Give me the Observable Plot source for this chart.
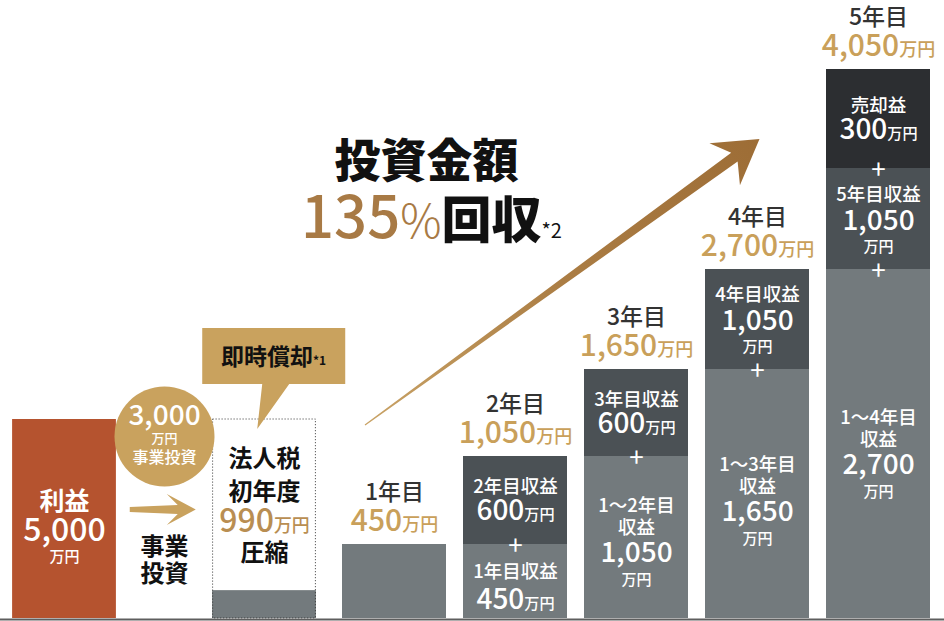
<!DOCTYPE html>
<html><head><meta charset="utf-8">
<script src="https://cdn.jsdelivr.net/npm/d3@7"></script>
<script src="https://cdn.jsdelivr.net/npm/@observablehq/plot@0.6"></script>
<style>
body{margin:0;background:#fff;}
#wrap{position:relative;width:944px;height:621px;overflow:hidden;background:#fff;}
#wrap svg{position:absolute;left:0;top:0;}
</style></head><body><div id="wrap"></div>
<script>
// ---------------- data ----------------
const years = ["1年目", "2年目", "3年目", "4年目", "5年目"];
const yearTotals = [450, 1050, 1650, 2700, 4050];
const segYears  = ["1年目", "2年目", "2年目", "3年目", "3年目", "4年目", "4年目", "5年目", "5年目", "5年目"];
const segKinds  = ["prev", "prev", "new", "prev", "new", "prev", "new", "prev", "new", "sale"];
const segValues = [450, 450, 600, 1050, 600, 1650, 1050, 2700, 1050, 300];
const segLabels = ["", "1年目収益", "2年目収益", "1～2年目\n収益", "3年目収益", "1～3年目\n収益", "4年目収益", "1～4年目\n収益", "5年目収益", "売却益"];
const unit = "万円";

const leftCols = ["利益", "事業投資", "法人税"];
const profitLabel = "利益";
const profitValue = 5000;
const investValue = 3000;
const investLabel = "事業投資";
const taxLines = ["法人税", "初年度", "圧縮"];
const taxCut = 990;
const taxRemain = 700;        // grey part at bottom of the tax box (estimated)
const bubbleLabel = "即時償却";
const headlineTop = "投資金額";
const recoveryRate = 135;
const recoveryWord = "回収";

// ---------------- layout / styles ----------------
const FONT = "'Noto Sans CJK JP', 'Noto Sans', sans-serif";
const KIND_COLOR = {prev: "#737a7d", new: "#4b5155", sale: "#2c2e31"};
const GOLD = "#c9a05a";
const fmt = d3.format(",");

// piecewise vertical scale (the infographic is not drawn to scale)
const Y_DOMAIN = [0, 450, 1050, 1650, 2700, 3750, 4050];
const Y_RANGE  = [618, 544, 456, 369, 269, 168, 69];
const yLin = d3.scaleLinear(Y_DOMAIN, Y_RANGE);
const X_RANGE = [341, 931], X_PAD = 0.144;
const xMain = d3.scaleBand(years, X_RANGE).paddingInner(X_PAD).paddingOuter(0).align(0.5);

// stacked segments
const segs = [];
const cum = {};
segYears.forEach((yr, i) => {
  const y1 = cum[yr] || 0, y2 = y1 + segValues[i];
  cum[yr] = y2;
  segs.push({year: yr, kind: segKinds[i], value: segValues[i], label: segLabels[i], y1, y2});
});

const headRows = [], totalRows = [], innerRows = [], plusRows = [];
years.forEach((yr, i) => {
  const top = yLin(yearTotals[i]);
  headRows.push({year: yr, py: top - 52, text: yr});
  totalRows.push({year: yr, py: top - 23, text: fmt(yearTotals[i]) + "|" + unit});
});
segs.forEach(s => {
  const total = yearTotals[years.indexOf(s.year)];
  if (s.y2 < total) plusRows.push({year: s.year, py: yLin(s.y2) + 2, text: "+"});
  if (!s.label) return;
  const top = yLin(s.y2), bot = yLin(s.y1);
  const isPrev = s.kind === "prev";
  const c = isPrev ? top + 0.533 * (bot - top) : (top + bot) / 2;
  const lines = s.label.split("\n");
  const num = fmt(s.value);
  let items;
  if (lines.length === 2) items = [[lines[0], -37, 18.5], [lines[1], -15, 18.5], [num, 10, 28], [unit, 37, 15]];
  else if (s.value >= 1000) items = [[lines[0], -24, 18.5], [num, 2, 28], [unit, 28, 15]];
  else items = [[lines[0], isPrev ? -12 : -13, 18.5], [num + "|" + unit, isPrev ? 16 : 11, 28]];
  items.forEach(([t, o, size]) => innerRows.push({year: s.year, py: c + o, text: t, size}));
});

// big tapered arrow
function bigArrow() {
  const bw = xMain.bandwidth();
  const tail = [xMain("1年目") + 24, yLin(1264)];
  const tip = [xMain("4年目") + bw / 2 + 2, yLin(3838)];
  const dx = tip[0] - tail[0], dy = tip[1] - tail[1], L = Math.hypot(dx, dy);
  const u = [dx / L, dy / L], n = [-u[1], u[0]];
  const P = (s, t) => [tip[0] + s * u[0] + t * n[0], tip[1] + s * u[1] + t * n[1]];
  const pts = [P(-L, -0.6), P(-31, -5.5), P(-43, -26), P(0, 0), P(-43, 26), P(-31, 5.5), P(-L, 0.6)];
  const g = d3.create("svg:g");
  const grad = g.append("defs").append("linearGradient").attr("id", "arrowGrad")
    .attr("gradientUnits", "userSpaceOnUse")
    .attr("x1", tail[0]).attr("y1", tail[1]).attr("x2", tip[0]).attr("y2", tip[1]);
  grad.append("stop").attr("offset", 0).attr("stop-color", "#c9a366");
  grad.append("stop").attr("offset", 0.5).attr("stop-color", "#ab7d44");
  grad.append("stop").attr("offset", 1).attr("stop-color", "#9d6d36");
  g.append("path").attr("d", "M" + pts.map(p => p.join(",")).join("L") + "Z").attr("fill", "url(#arrowGrad)");
  return g.node();
}

const mainPlot = Plot.plot({
  width: 944, height: 621, margin: 0,
  style: {background: "transparent", fontFamily: FONT, overflow: "visible"},
  x: {type: "band", domain: years, range: X_RANGE, paddingInner: X_PAD, paddingOuter: 0, align: 0.5, axis: null},
  y: {type: "linear", domain: Y_DOMAIN, range: Y_RANGE, axis: null},
  color: {type: "identity"},
  marks: [
    Plot.barY(segs, {x: "year", y1: "y1", y2: "y2", fill: d => KIND_COLOR[d.kind]}),
    Plot.ruleY([0], {stroke: "#5e5e5e", strokeWidth: 2, dy: 1}),
    bigArrow,
    Plot.text(headRows, {x: "year", y: d => yLin.invert(d.py), text: "text", fontSize: 23, fontWeight: 500, fill: "#333", fontFamily: FONT}),
    Plot.text(totalRows, {x: "year", y: d => yLin.invert(d.py), text: "text", fontSize: 30, fontWeight: 500, fill: GOLD, fontFamily: FONT}),
    Plot.text(innerRows, {x: "year", y: d => yLin.invert(d.py), text: "text", fontSize: "size", fontWeight: 500, fill: "#fff", fontFamily: FONT}),
    Plot.text(plusRows, {x: "year", y: d => yLin.invert(d.py), text: "text", fontSize: 26, fontWeight: 400, fill: "#fff", fontFamily: FONT}),
    Plot.text([headlineTop], {frameAnchor: "top-left", textAnchor: "middle", lineAnchor: "middle", dx: 426, dy: 162, text: d => d, fontSize: 46, fontWeight: 900, fill: "#111", fontFamily: FONT}),
    Plot.text([recoveryRate], {frameAnchor: "top-left", textAnchor: "middle", lineAnchor: "bottom", dx: 431, dy: 237, text: d => `${d}|%|${recoveryWord}|*2`, fontSize: 50, fill: "#111", fontFamily: FONT})
  ]
});

// ---------------- left part ----------------
const yL = d3.scaleLinear([0, profitValue], [618, 419]);
const L_RANGE = [12.6, 314.9];
const xL = d3.scaleBand(leftCols, L_RANGE).padding(0);
const INS = -1.9;
const lTop = yL(profitValue);

function smallArrow() {
  const cx = xL("事業投資") + xL.bandwidth() / 2, y = 509.5;
  const pts = [[-34, -2.5], [14, -4.5], [3, -15.5], [32, 0], [3, 15.5], [14, 4.5], [-34, 2.5]];
  const g = d3.create("svg:g");
  g.append("path").attr("d", "M" + pts.map(([a, b]) => [cx + a, y + b].join(",")).join("L") + "Z").attr("fill", "#c9a25e");
  return g.node();
}
function bubble() {
  const x0 = xL("法人税") + INS, t = lTop;
  const d = `M${x0 - 10},${t - 91}H${x0 + 133}V${t - 35}H${x0 + 77}L${x0 + 45},${t + 10}L${x0 + 50},${t - 35}H${x0 - 10}Z`;
  const g = d3.create("svg:g");
  g.append("path").attr("d", d).attr("fill", "#c9a25e");
  return g.node();
}

const leftBold = [
  {x: "利益", py: lTop + 82, text: profitLabel, size: 25, fill: "#fff"},
  {x: "事業投資", py: 547, text: investLabel.slice(0, 2), size: 24, fill: "#111"},
  {x: "事業投資", py: 574, text: investLabel.slice(2), size: 24, fill: "#111"},
  {x: "法人税", py: lTop + 40, text: taxLines[0], size: 24, fill: "#111"},
  {x: "法人税", py: lTop + 73, text: taxLines[1], size: 24, fill: "#111"},
  {x: "法人税", py: lTop + 134, text: taxLines[2], size: 24, fill: "#111"}
];
const leftMed = [
  {x: "利益", py: lTop + 111, text: fmt(profitValue), size: 32, fill: "#fff"},
  {x: "利益", py: lTop + 138, text: unit, size: 15, fill: "#fff"},
  {x: "事業投資", py: 416, text: fmt(investValue), size: 28, fill: "#fff"},
  {x: "事業投資", py: 438, text: unit, size: 13, fill: "#fff"},
  {x: "事業投資", py: 457, text: investLabel, size: 16, fill: "#fff"}
];

const leftPlot = Plot.plot({
  width: 944, height: 621, margin: 0,
  style: {background: "transparent", fontFamily: FONT, overflow: "visible"},
  x: {type: "band", domain: leftCols, range: L_RANGE, padding: 0, axis: null},
  y: {type: "linear", domain: [0, profitValue], range: [618, 419], axis: null},
  color: {type: "identity"},
  marks: [
    Plot.barY([profitValue], {x: () => "利益", y: d => d, fill: "#b5532f", insetLeft: INS, insetRight: INS}),
    Plot.barY([taxRemain], {x: () => "法人税", y: d => d, fill: "#737a7d", insetLeft: INS, insetRight: INS}),
    Plot.barY([profitValue], {x: () => "法人税", y: d => d, fill: "none", stroke: "#333", strokeWidth: 1, strokeDasharray: "1,2", insetLeft: INS + 0.5, insetRight: INS + 0.5}),
    Plot.dot([investValue], {x: () => "事業投資", y: () => yL.invert(436), r: 50, fill: "#c9a25e"}),
    smallArrow,
    bubble,
    Plot.text(leftBold, {x: "x", y: d => yL.invert(d.py), text: "text", fontSize: "size", fill: "fill", fontWeight: 700, fontFamily: FONT}),
    Plot.text(leftMed, {x: "x", y: d => yL.invert(d.py), text: "text", fontSize: "size", fill: "fill", fontWeight: 500, fontFamily: FONT}),
    Plot.text([taxCut], {x: () => "法人税", y: () => yL.invert(lTop + 102), text: d => fmt(d) + "|" + unit, fontSize: 32, fontWeight: 500, fill: "#b98e52", fontFamily: FONT}),
    Plot.text([bubbleLabel], {x: () => "法人税", y: () => yL.invert(lTop - 62), dx: 9, text: d => d + "|*1", fontSize: 23, fontWeight: 700, fill: "#111", fontFamily: FONT})
  ]
});

const wrap = document.getElementById("wrap");
wrap.appendChild(leftPlot);
wrap.appendChild(mainPlot);

// ---------------- mixed-size text (unit smaller than number) ----------------
const UNIT_RATIO = {30: 0.6, 28: 0.54, 32: 0.56, 23: 0.52};
const HEAD_STYLE = [
  {size: 58, fill: "#a87a45", weight: 500},
  {size: 46, fill: "#a87a45", weight: 300},
  {size: 50, fill: "#111", weight: 900},
  {size: 20, fill: "#111", weight: 400}
];
d3.select(wrap).selectAll("text").each(function () {
  const t = this.textContent;
  if (!t.includes("|")) return;
  const parts = t.split("|");
  const fs = Math.round(parseFloat(getComputedStyle(this).fontSize));
  this.textContent = "";
  const sel = d3.select(this);
  if (parts.length === 4) {
    parts.forEach((p, i) => sel.append("tspan").attr("font-size", HEAD_STYLE[i].size)
      .attr("fill", HEAD_STYLE[i].fill).attr("font-weight", HEAD_STYLE[i].weight).text(p));
  } else {
    sel.append("tspan").text(parts[0]);
    sel.append("tspan").attr("font-size", (UNIT_RATIO[fs] || 0.58) + "em").text(parts[1]);
  }
});
</script></body></html>
